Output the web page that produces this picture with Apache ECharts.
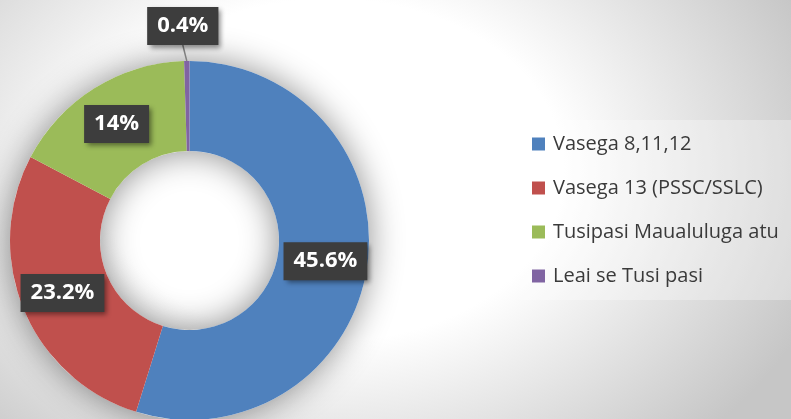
<!DOCTYPE html>
<html>
<head>
<meta charset="utf-8">
<script src="https://cdn.jsdelivr.net/npm/echarts@6/dist/echarts.min.js"></script>
<style>
  html, body { margin: 0; padding: 0; }
  #chart {
    width: 791px; height: 419px;
    background: radial-gradient(ellipse 520px 380px at 330px 170px, #ffffff 0%, #ffffff 45%, #c6c6c6 100%);
  }
</style>
</head>
<body>
<div id="chart"></div>
<script>
// categories and values (percent labels as printed on the chart)
const categories = ['Vasega 8,11,12', 'Vasega 13 (PSSC/SSLC)', 'Tusipasi Maualuluga atu', 'Leai se Tusi pasi']
const values = [45.6, 23.2, 14, 0.4]
const colors = ['#4f81bd', '#c0504d', '#9bbb59', '#8064a2']

const chart = echarts.init(document.getElementById('chart'), null, { renderer: 'canvas' })

const labelBox = {
  color: '#ffffff',
  fontFamily: 'Open Sans',
  fontWeight: 'bold',
  fontSize: 22,
  backgroundColor: '#3d3d3d',
  padding: [8, 10, 8, 10],
  shadowColor: 'rgba(0,0,0,0.45)',
  shadowBlur: 5,
  shadowOffsetX: 3,
  shadowOffsetY: 3,
  formatter: '{c}%'
}

const pieData = categories.map((name, i) => {
  const item = { name: name, value: values[i], itemStyle: { color: colors[i] } }
  if (i === 3) {
    // tiny slice: label sits above the ring with a leader line
    item.label = { position: 'outside' }
    item.labelLine = { show: true, length: 20, length2: 0, lineStyle: { color: '#808080', width: 1.5 } }
  }
  return item
})

const total = values.reduce((a, b) => a + b, 0)

const option = {
  backgroundColor: 'transparent',
  legend: {
    orient: 'vertical',
    left: 520,
    top: 120,
    padding: [14, 40, 14, 12],
    backgroundColor: 'rgba(255,255,255,0.3)',
    icon: 'rect',
    itemWidth: 13,
    itemHeight: 13,
    itemGap: 24,
    data: categories,
    textStyle: {
      fontFamily: 'Open Sans',
      fontSize: 20,
      lineHeight: 20,
      color: '#3a3a3a',
      padding: [0, 0, 0, 3]
    }
  },
  series: [
    {
      // soft shadow under the ring
      type: 'pie',
      silent: true,
      center: [189.5, 240.5],
      radius: [89.5, 179.5],
      z: 1,
      label: { show: false },
      labelLine: { show: false },
      itemStyle: {
        color: '#ffffff',
        shadowBlur: 34,
        shadowColor: 'rgba(0,0,0,0.45)'
      },
      data: [{ name: '', value: total }]
    },
    {
      type: 'pie',
      center: [189.5, 240.5],
      radius: [89.5, 179.5],
      startAngle: 90,
      clockwise: true,
      avoidLabelOverlap: false,
      z: 2,
      label: Object.assign({ show: true, position: 'inside' }, labelBox),
      labelLine: { show: false },
      labelLayout: function (params) {
        if (params.dataIndex === 3) {
          return {
            x: params.rect.x + params.rect.width / 2 - 4,
            y: params.rect.y - 35,
            align: 'center',
            verticalAlign: 'middle'
          }
        }
      },
      emphasis: { scale: false },
      data: pieData
    }
  ]
}

chart.setOption(option)
window.addEventListener('resize', () => {
  chart.resize()
})
</script>
</body>
</html>
